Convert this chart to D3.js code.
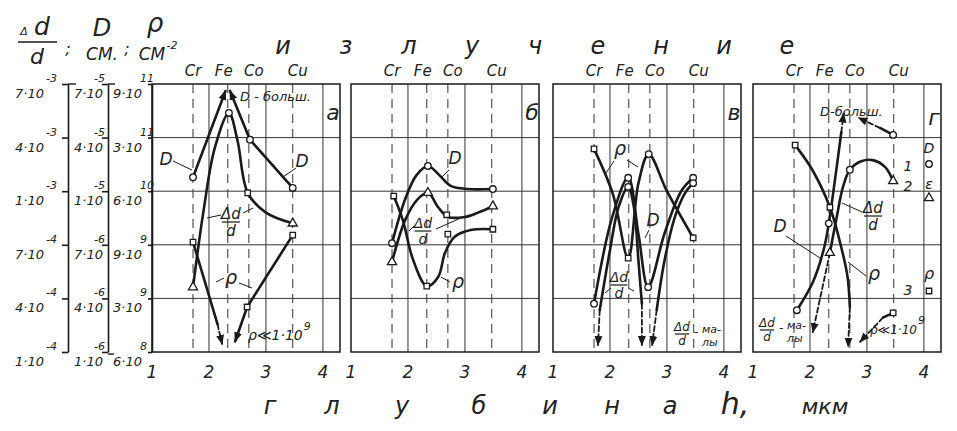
<!DOCTYPE html>
<html>
<head>
<meta charset="utf-8">
<script src="https://cdn.jsdelivr.net/npm/d3@7"></script>
<style>
  body { margin: 0; background: #fff; }
  svg { display: block; }
  text { font-family: "DejaVu Sans", sans-serif; font-style: italic; fill: #222; }
</style>
</head>
<body>
<svg id="chart" width="957" height="431"></svg>
<script>
// ---- data ----
const gridLevels = [0, 1, 2, 3, 4, 5];
const depthTicks = [1, 2, 3, 4];
const elementNames = ['Cr', 'Fe', 'Co', 'Cu'];
const elementDepths = [1.72, 2.33, 2.70, 3.47];
const panelLetters = ['а', 'б', 'в', 'г'];

// left axes, bottom -> top : [mantissa, exponent]
const strainTicks = [['1·10', '-4'], ['4·10', '-4'], ['7·10', '-4'], ['1·10', '-3'], ['4·10', '-3'], ['7·10', '-3']];
const diffTicks = [['1·10', '-6'], ['4·10', '-6'], ['7·10', '-6'], ['1·10', '-5'], ['4·10', '-5'], ['7·10', '-5']];
const rhoTicks = [['6·10', '8'], ['3·10', '9'], ['9·10', '9'], ['6·10', '10'], ['3·10', '11'], ['9·10', '11']];

// points are [depth h, grid level]
// panel а
const aDRise = [[1.72, 3.26], [2.29, 4.87]];
const aDFall = [[3.47, 3.06], [2.72, 3.96], [2.37, 4.87]];
const aStrain = [[1.72, 1.21], [1.9, 2.6], [2.1, 3.8], [2.35, 4.46], [2.5, 3.95], [2.68, 2.97], [3.0, 2.6], [3.47, 2.4]];
const aRhoLeft = [[1.72, 2.05], [2.15, 0.52]];
const aRhoLeftTail = [[2.15, 0.52], [2.23, 0.15]];
const aRhoRight = [[3.47, 2.18], [2.67, 0.84], [2.46, 0.2]];
const aCircles = [[1.72, 3.26], [2.35, 4.46], [2.72, 3.96], [3.47, 3.06]];
const aTriangles = [[1.72, 1.21], [3.47, 2.4]];
const aSquares = [[1.72, 2.05], [2.68, 2.97], [2.67, 0.84], [3.47, 2.18]];

// panel б
const bD = [[1.72, 2.03], [1.95, 2.85], [2.15, 3.3], [2.35, 3.47], [2.55, 3.3], [2.75, 3.1], [3.05, 3.04], [3.49, 3.04]];
const bStrain = [[1.72, 1.68], [1.95, 2.46], [2.16, 2.84], [2.35, 2.97], [2.53, 2.7], [2.7, 2.52], [3.0, 2.52], [3.23, 2.6], [3.49, 2.72]];
const bRho = [[1.75, 2.91], [1.91, 2.46], [2.09, 1.72], [2.33, 1.23], [2.53, 1.4], [2.65, 1.85], [2.82, 2.15], [3.12, 2.28], [3.49, 2.29]];
const bCircles = [[1.72, 2.03], [2.35, 3.47], [3.49, 3.04]];
const bTriangles = [[1.72, 1.68], [2.35, 2.97], [3.49, 2.72]];
const bSquares = [[1.75, 2.91], [2.33, 1.23], [2.68, 2.56], [2.7, 2.2], [3.49, 2.29]];

// panel в
const cRho = [[1.72, 3.79], [2.05, 2.95], [2.32, 1.75], [2.5, 3.15], [2.68, 3.69], [3.0, 3.0], [3.46, 2.13]];
const cD = [[1.72, 0.9], [2.04, 2.52], [2.32, 3.25], [2.5, 2.2], [2.67, 1.21], [2.96, 2.22], [3.25, 3.0], [3.46, 3.25]];
const cStrainA = [[1.82, 0.78], [2.0, 1.9], [2.15, 2.7], [2.32, 3.08], [2.42, 2.7], [2.5, 1.7], [2.56, 0.9]];
const cStrainB = [[2.82, 0.78], [2.96, 1.72], [3.14, 2.52], [3.32, 2.97], [3.46, 3.15]];
const cTailA = [[1.82, 0.78], [1.79, 0.13]];
const cTailB = [[2.56, 0.9], [2.56, 0.13]];
const cTailC = [[2.82, 0.78], [2.74, 0.13]];
const cCircles = [[1.72, 0.9], [2.32, 3.25], [2.32, 3.08], [2.68, 3.69], [2.67, 1.21], [3.46, 3.25], [3.46, 3.15]];
const cSquares = [[1.72, 3.79], [2.32, 1.75], [3.46, 2.13]];

// panel г
const dRho = [[1.74, 3.86], [2.04, 3.4], [2.35, 2.7], [2.55, 1.95], [2.66, 1.4], [2.7, 0.84]];
const dRhoTail = [[2.7, 0.84], [2.67, 0.1]];
const dD = [[1.77, 0.78], [2.05, 1.3], [2.25, 1.95], [2.33, 2.4], [2.45, 3.3], [2.55, 4.1]];
const dDTail = [[2.55, 4.1], [2.59, 4.45]];
const dStrain = [[2.35, 1.85], [2.47, 2.52], [2.58, 3.08], [2.7, 3.4], [2.9, 3.56], [3.1, 3.58], [3.32, 3.45], [3.46, 3.19]];
const dStrainTail = [[2.35, 1.85], [2.05, 0.37]];
const dDCu = [[3.46, 4.05], [3.23, 4.18]];
const dDCuTail = [[3.23, 4.18], [2.85, 4.37]];
const dRhoCu = [[3.46, 0.73], [3.28, 0.64]];
const dRhoCuTail = [[3.28, 0.64], [2.88, 0.19]];
const dCircles = [[1.77, 0.78], [2.33, 2.4], [2.7, 3.4], [3.46, 4.05]];
const dTriangles = [[2.35, 1.85], [3.46, 3.19]];
const dSquares = [[1.74, 3.86], [2.35, 2.7], [3.46, 0.73]];

// ---- layout ----
const svg = d3.select('#chart');
const panelLefts = [152, 351, 553, 753];
const panelW = 188, plotTop = 84, plotBottom = 352;
const ink = '#1a1a1a';

const y = d3.scaleLinear().domain([0, 5]).range([plotBottom, plotTop]);
const xs = panelLefts.map(l => d3.scaleLinear().domain([1, 4.3]).range([l, l + panelW]));

const defs = svg.append('defs');
defs.append('marker')
  .attr('id', 'arrow')
  .attr('viewBox', '0 0 10 10')
  .attr('refX', 9).attr('refY', 5)
  .attr('markerWidth', 10).attr('markerHeight', 10)
  .attr('markerUnits', 'userSpaceOnUse')
  .attr('orient', 'auto')
  .append('path').attr('d', 'M0,1 L10,5 L0,9 Z').attr('fill', ink);

// panels: frame, grid, element lines
panelLefts.forEach((l, p) => {
  const x = xs[p];
  const g = svg.append('g');

  g.selectAll('.hgrid').data(gridLevels.slice(1, -1)).enter().append('line')
    .attr('x1', l).attr('x2', l + panelW)
    .attr('y1', d => y(d)).attr('y2', d => y(d))
    .attr('stroke', '#333').attr('stroke-width', 1);

  g.selectAll('.vgrid').data([2, 3, 4]).enter().append('line')
    .attr('x1', d => x(d)).attr('x2', d => x(d))
    .attr('y1', plotTop).attr('y2', plotBottom)
    .attr('stroke', '#333').attr('stroke-width', 1);

  g.selectAll('.elem').data(elementDepths).enter().append('line')
    .attr('x1', d => x(d)).attr('x2', d => x(d))
    .attr('y1', plotTop).attr('y2', plotBottom)
    .attr('stroke', '#444').attr('stroke-width', 1.1)
    .attr('stroke-dasharray', '9,6');

  g.append('rect')
    .attr('x', l).attr('y', plotTop).attr('width', panelW).attr('height', plotBottom - plotTop)
    .attr('fill', 'none').attr('stroke', ink).attr('stroke-width', 1.5);

  // element names above
  const nameShift = [0, -4, 5, 5];
  g.selectAll('.ename').data(elementNames).enter().append('text')
    .attr('x', (d, i) => x(elementDepths[i]) + nameShift[i])
    .attr('y', 76)
    .attr('text-anchor', 'middle')
    .attr('font-size', 15)
    .text(d => d);

  // depth tick labels
  g.selectAll('.dtick').data(depthTicks).enter().append('text')
    .attr('x', d => x(d)).attr('y', 378)
    .attr('text-anchor', 'middle')
    .attr('font-size', 17)
    .text(d => d);

  g.append('text')
    .attr('x', l + 181).attr('y', p === 3 ? 125 : 120)
    .attr('text-anchor', 'middle')
    .attr('font-size', 22)
    .text(panelLetters[p]);
});

// left axes
const axisPos = [68, 108, 152];
axisPos.forEach((ax, i) => {
  const a = svg.append('g').attr('transform', `translate(${ax},0)`)
    .call(d3.axisLeft(y).tickValues(gridLevels).tickFormat('').tickSize(i === 2 ? 4 : 6).tickSizeOuter(0));
  a.selectAll('path,line').attr('stroke', ink).attr('stroke-width', 1.6);
});
svg.append('line').attr('x1', 68).attr('x2', 76).attr('y1', plotTop).attr('y2', plotTop).attr('stroke', ink).attr('stroke-width', 1.4);
svg.append('line').attr('x1', 108).attr('x2', 115).attr('y1', plotTop).attr('y2', plotTop).attr('stroke', ink).attr('stroke-width', 1.4);
svg.append('line').attr('x1', 108).attr('x2', 114).attr('y1', plotBottom + 2).attr('y2', plotBottom + 2).attr('stroke', ink).attr('stroke-width', 1.4);

// mantissa with its exponent placed up and to the right of its end
function axisLabels(ticks, mx, manchor, expShift) {
  ticks.forEach((d, i) => {
    const ty = y(gridLevels[i]);
    const m = svg.append('text').attr('x', mx).attr('y', ty + 14)
      .attr('text-anchor', manchor).attr('font-size', 13).text(d[0]);
    const len = m.node().getComputedTextLength();
    const end = manchor === 'end' ? mx : mx + len;
    svg.append('text').attr('x', end + expShift).attr('y', ty - 2)
      .attr('font-size', 11).text(d[1]);
  });
}
axisLabels(strainTicks, 44, 'end', 2);
axisLabels(diffTicks, 74, 'start', -9);
axisLabels(rhoTicks, 113, 'start', -2);

// ---- curves ----
const smooth = d3.curveCatmullRom.alpha(0.5);
const series = [
  [0, aDRise, 'line', true], [0, aDFall, 'line', true], [0, aStrain, 'smooth', false],
  [0, aRhoLeft, 'line', false], [0, aRhoLeftTail, 'dash', true], [0, aRhoRight, 'line', true],
  [1, bD, 'smooth', false], [1, bStrain, 'smooth', false], [1, bRho, 'smooth', false],
  [2, cRho, 'smooth', false], [2, cD, 'smooth', false], [2, cStrainA, 'smooth', false], [2, cStrainB, 'smooth', false],
  [2, cTailA, 'dash', true], [2, cTailB, 'dash', true], [2, cTailC, 'dash', true],
  [3, dRho, 'smooth', false], [3, dRhoTail, 'dash', true], [3, dD, 'smooth', false], [3, dDTail, 'dash', true],
  [3, dStrain, 'smooth', false], [3, dStrainTail, 'dash', true], [3, dDCu, 'line', false], [3, dDCuTail, 'dash', true],
  [3, dRhoCu, 'line', false], [3, dRhoCuTail, 'dash', true]
];

series.forEach(([p, pts, kind, arrow]) => {
  const line = d3.line().x(d => xs[p](d[0])).y(d => y(d[1]))
    .curve(kind === 'smooth' ? smooth : d3.curveLinear);
  const path = svg.append('path')
    .attr('d', line(pts))
    .attr('fill', 'none')
    .attr('stroke', ink)
    .attr('stroke-width', kind === 'dash' ? 1.8 : 2.6)
    .attr('stroke-linecap', 'round');
  if (kind === 'dash') path.attr('stroke-dasharray', '5,3');
  if (arrow) path.attr('marker-end', 'url(#arrow)');
});

// ---- markers ----
const markerSets = [
  [0, aCircles, 'circle'], [0, aTriangles, 'tri'], [0, aSquares, 'square'],
  [1, bCircles, 'circle'], [1, bTriangles, 'tri'], [1, bSquares, 'square'],
  [2, cCircles, 'circle'], [2, cSquares, 'square'],
  [3, dCircles, 'circle'], [3, dTriangles, 'tri'], [3, dSquares, 'square']
];
const symbols = { circle: d3.symbolCircle, tri: d3.symbolTriangle, square: d3.symbolSquare };
const symSize = { circle: 34, tri: 36, square: 30 };

function drawSymbols(pts, kind, px, py) {
  svg.selectAll(null).data(pts).enter().append('path')
    .attr('transform', d => `translate(${px(d)},${py(d)})`)
    .attr('d', d3.symbol().type(symbols[kind]).size(symSize[kind]))
    .attr('fill', '#fff').attr('stroke', ink).attr('stroke-width', 1.3);
}
markerSets.forEach(([p, pts, kind]) => drawSymbols(pts, kind, d => xs[p](d[0]), d => y(d[1])));

// ---- annotations ----
function txt(x, yy, s, size, anchor) {
  return svg.append('text').attr('x', x).attr('y', yy)
    .attr('font-size', size || 16).attr('text-anchor', anchor || 'middle').text(s);
}
function lead(x1, y1, x2, y2) {
  svg.append('line').attr('x1', x1).attr('y1', y1).attr('x2', x2).attr('y2', y2)
    .attr('stroke', ink).attr('stroke-width', 1);
}
function frac(cx, yTop, size) {
  const s = size || 15;
  txt(cx, yTop, 'Δd', s);
  svg.append('line').attr('x1', cx - s * 0.6).attr('x2', cx + s * 0.6)
    .attr('y1', yTop + 3).attr('y2', yTop + 3).attr('stroke', ink).attr('stroke-width', 1.2);
  txt(cx, yTop + s + 2, 'd', s);
}
function small(x, yy, size) {
  txt(x, yy, '-', size, 'start');
  txt(x + 8, yy - 3, 'ма-', size - 1, 'start');
  txt(x + 8, yy + 10, 'лы', size - 1, 'start');
}
function rhoSmall(x, yy, size) {
  const t = txt(x, yy, 'ρ≪1·10', size, 'start');
  txt(x + t.node().getComputedTextLength() + 1, yy - 10, '9', 11, 'start');
}

// header
txt(24, 35, 'Δ', 11);
txt(42, 35, 'd', 25);
svg.append('line').attr('x1', 18).attr('x2', 57).attr('y1', 42).attr('y2', 42).attr('stroke', ink).attr('stroke-width', 1.6);
txt(37, 64, 'd', 22);
txt(68, 54, ';', 16);
txt(102, 36, 'D', 24);
txt(102, 60, 'СМ.', 17);
txt(127, 54, ';', 16);
txt(155, 32, 'ρ', 26);
txt(152, 60, 'СМ', 17);
txt(172, 49, '-2', 11);

// title and x axis title
const titleLetters = ['и', 'з', 'л', 'у', 'ч', 'е', 'н', 'и', 'е'];
titleLetters.forEach((c, i) => txt(283 + i * 63, 54, c, 24));
const depthWord = ['г', 'л', 'у', 'б', 'и', 'н', 'а'];
const depthWordX = [270, 332, 402, 479, 550, 612, 670];
depthWord.forEach((c, i) => txt(depthWordX[i], 414, c, 24));
txt(735, 414, 'h,', 30);
txt(825, 414, 'мкм', 22);

// panel а
txt(166, 165, 'D', 17); lead(173, 161, 192, 170);
txt(302, 167, 'D', 17); lead(296, 168, 283, 177);
frac(231, 219, 15); lead(221, 215, 207, 218); lead(243, 213, 253, 208);
txt(231, 284, 'ρ', 19); lead(224, 278, 216, 282); lead(239, 283, 252, 288);
txt(240, 101, 'D - больш.', 13, 'start');
rhoSmall(248, 340, 14);

// panel б
txt(455, 164, 'D', 17); lead(449, 170, 441, 178);
frac(423, 228, 14); lead(414, 226, 409, 231); lead(436, 229, 463, 217);
txt(458, 288, 'ρ', 19); lead(450, 282, 441, 277);

// panel в
txt(620, 155, 'ρ', 19); lead(614, 161, 606, 173); lead(627, 160, 638, 167);
txt(653, 226, 'D', 17); lead(649, 230, 645, 238);
frac(682, 331, 12); small(694, 336, 12);
frac(619, 282, 14); lead(611, 288, 605, 293); lead(628, 288, 634, 291);

// panel г
txt(820, 116, 'D-больш.', 13, 'start');
txt(780, 232, 'D', 17); lead(786, 236, 820, 258);
frac(873, 213, 15); lead(862, 212, 842, 203);
txt(874, 280, 'ρ', 19); lead(866, 276, 848, 262);
frac(767, 327, 12); small(779, 332, 12);
rhoSmall(870, 334, 12);

// legend
txt(929, 153, 'D', 14); txt(908, 171, '1', 14); txt(908, 191, '2', 14);
txt(929, 189, 'ε', 14);
txt(929, 279, 'ρ', 16); txt(908, 295, '3', 14);
const legendPts = [[929, 164, 'circle'], [929, 198, 'tri'], [929, 291, 'square']];
legendPts.forEach(d => drawSymbols([d], d[2], q => q[0], q => q[1]));
</script>
</body>
</html>
